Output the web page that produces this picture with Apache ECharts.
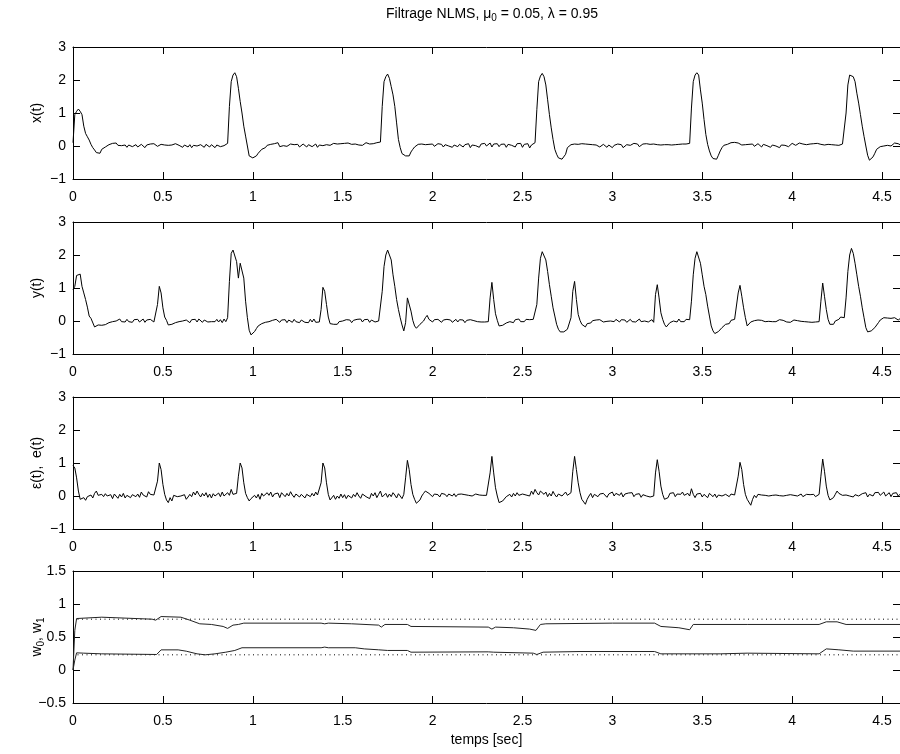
<!DOCTYPE html>
<html>
<head>
<meta charset="utf-8">
<title>Filtrage NLMS</title>
<script src="https://cdn.jsdelivr.net/npm/echarts@6/dist/echarts.min.js"></script>
<style>
  html, body { margin: 0; padding: 0; background: #fff; }
  #chart { width: 900px; height: 754px; }
</style>
</head>
<body>
<div id="chart"></div>
<script>
// Sampling period of the recorded signals (s) and time span shown
const sampleStep = 0.01;
const timeEnd = 4.6;

// x(t): reference (maternal) signal, one row = 0.1 s
const xSignal = [
  0.1, 0.95, 1.05, 1.12, 1.05, 0.95, 0.6, 0.38, 0.28, 0.18,
  0.05, -0.05, -0.12, -0.2, -0.25, -0.22, -0.1, -0.14, -0.03, -0.06,
  0.04, 0.0, 0.08, 0.03, 0.09, 0.02, 0.06, 0.01, 0.07, 0.03,
  -0.04, 0.03, 0.05, -0.02, 0.01, 0.04, -0.03, 0.02, 0.05, 0.0,
  -0.05, 0.03, -0.02, 0.06, 0.02, 0.07, 0.04, -0.01, 0.02, 0.05,
  0.01, 0.03, 0.06, 0.02, 0.08, 0.03, 0.05, 0.07, 0.04, 0.02,
  0.06, -0.04, 0.03, 0.05, -0.03, 0.04, -0.05, 0.02, 0.06, 0.0,
  -0.06, 0.04, 0.01, -0.04, 0.05, 0.02, -0.03, 0.04, 0.0, -0.05,
  0.03, 0.06, -0.02, 0.04, 0.01, 0.05, 0.08, 1.2, 1.95, 2.15,
  2.22, 2.1, 1.75, 1.35, 1.0, 0.6, 0.3, 0.0, -0.3, -0.35,
  -0.36, -0.35, -0.3, -0.22, -0.16, -0.1, -0.12, -0.05, 0.02, -0.03,
  0.05, 0.0, 0.07, 0.02, 0.1, -0.02, 0.04, 0.01, 0.05, -0.01,
  0.03, 0.06, 0.0, 0.04, 0.02, 0.05, -0.03, 0.02, 0.06, 0.0,
  -0.03, 0.04, 0.05, -0.02, 0.03, 0.06, -0.04, 0.03, 0.05, 0.01,
  -0.02, 0.04, 0.07, 0.02, 0.05, 0.08, 0.03, 0.06, 0.04, 0.07,
  0.05, 0.08, 0.06, 0.09, 0.07, 0.05, 0.08, 0.06, 0.09, 0.03,
  0.08, 0.02, 0.07, 0.1, 0.04, 0.06, 0.08, 0.07, 0.09, 0.1,
  0.1, 0.12, 1.2, 1.95, 2.1, 2.18, 2.05, 1.8, 1.55, 1.2,
  0.7, 0.2, -0.05, -0.23, -0.28, -0.3, -0.31, -0.3, -0.18, -0.1,
  -0.03, 0.02, 0.05, 0.0, 0.06, 0.02, 0.04, -0.02, 0.05, 0.03,
  0.06, -0.01, 0.04, 0.07, 0.01, 0.05, -0.03, 0.04, 0.06, 0.0,
  0.05, -0.04, 0.03, 0.07, -0.02, 0.05, 0.08, -0.03, 0.04, 0.02,
  0.07, -0.05, 0.03, 0.08, 0.01, 0.05, -0.04, 0.06, 0.02, 0.08,
  0.0, 0.05, 0.09, -0.03, 0.06, 0.02, 0.07, -0.02, 0.05, 0.03,
  0.06, -0.04, 0.05, 0.08, 0.02, 0.06, -0.03, 0.07, 0.03, 0.08,
  -0.04, 0.05, 0.02, 0.07, -0.06, 0.03, 0.06, 0.1, 1.1, 1.95,
  2.12, 2.2, 2.1, 1.85, 1.4, 0.95, 0.55, 0.2, -0.1, -0.25,
  -0.36, -0.4, -0.4, -0.35, -0.25, -0.05, 0.0, 0.04, 0.02, 0.06,
  0.08, 0.05, 0.1, 0.07, 0.04, 0.06, 0.03, 0.05, 0.02, 0.04,
  0.0, 0.03, 0.05, -0.03, 0.02, 0.05, 0.01, -0.04, 0.03, 0.06,
  -0.05, 0.02, 0.04, 0.06, 0.0, 0.04, -0.05, 0.01, 0.04, 0.06,
  0.02, 0.05, 0.08, 0.03, 0.06, -0.02, 0.04, 0.06, 0.03, 0.07,
  0.03, 0.05, 0.08, 0.06, 0.03, 0.04, 0.06, 0.03, 0.05, 0.04,
  0.02, 0.04, 0.01, 0.03, 0.06, 0.04, 0.02, 0.05, 0.03, 0.06,
  0.02, 0.06, 0.04, 0.08, 1.15, 1.95, 2.15, 2.22, 2.15, 1.7,
  1.3, 0.8, 0.35, 0.05, -0.15, -0.3, -0.38, -0.42, -0.4, -0.28,
  -0.15, -0.05, 0.02, 0.0, 0.05, 0.07, 0.1, 0.08, 0.11, 0.07,
  0.09, 0.06, 0.03, 0.07, 0.04, 0.01, 0.05, 0.02, 0.06, -0.01,
  0.04, 0.07, 0.02, -0.03, 0.05, 0.08, 0.01, 0.04, -0.04, 0.03,
  0.07, 0.0, 0.05, -0.05, 0.03, 0.08, 0.02, 0.06, -0.02, 0.04,
  0.08, 0.05, 0.02, 0.07, 0.09, 0.03, 0.06, 0.08, 0.04, 0.05,
  0.06, 0.03, 0.07, 0.04, 0.08, 0.02, 0.05, 0.09, 0.03, 0.06,
  0.05, 0.01, 0.04, 0.06, 0.03, 0.05, 0.02, 0.04, 0.06, 0.08,
  1.0, 1.85, 2.15, 2.2, 2.1, 1.95, 1.6, 1.3, 0.95, 0.6,
  0.29, 0.0, -0.28, -0.43, -0.42, -0.33, -0.22, -0.1, -0.05, -0.02,
  0.03, 0.0, 0.05, 0.02, 0.07, 0.0, 0.06, 0.09, 0.03, 0.07,
  0.04
];

// y(t): primary (mixed) signal
const ySignal = [
  0.95, 1.05, 1.38, 1.4, 1.42, 1.05, 0.85, 0.65, 0.42, 0.15,
  0.08, 0.05, -0.18, -0.15, -0.12, -0.1, -0.13, -0.08, -0.11, -0.06,
  -0.05, -0.09, -0.02, -0.07, 0.0, -0.04, 0.06, -0.02, 0.04, -0.03,
  0.05, -0.02, 0.03, -0.04, 0.04, -0.01, 0.05, -0.03, 0.02, 0.06,
  -0.04, 0.03, -0.02, 0.05, 0.0, -0.03, -0.02, 0.5, 1.05, 0.85,
  0.4, 0.12, 0.02, -0.12, -0.18, -0.1, -0.13, -0.05, -0.08, -0.02,
  -0.05, 0.0, -0.04, 0.03, -0.02, -0.05, 0.04, -0.01, 0.05, -0.03,
  0.06, 0.0, -0.04, 0.03, 0.0, -0.03, 0.02, -0.02, 0.04, -0.02,
  0.05, -0.03, 0.04, -0.05, 0.06, -0.02, 0.1, 1.2, 2.05, 2.15,
  2.1, 1.8, 1.3, 1.75, 1.75, 1.3, 0.6, 0.1, -0.28, -0.42,
  -0.4, -0.32, -0.23, -0.15, -0.12, -0.08, -0.12, -0.04, -0.07, -0.02,
  -0.05, 0.02, -0.03, 0.05, 0.0, -0.04, 0.03, -0.02, 0.04, -0.05,
  0.03, 0.0, -0.04, 0.05, -0.02, 0.02, -0.05, 0.03, -0.01, -0.04,
  0.02, -0.05, 0.05, -0.03, 0.06, -0.04, 0.0, -0.03, 0.35, 1.02,
  0.9, 0.5, 0.12, -0.08, -0.14, -0.1, -0.05, -0.1, -0.02, -0.06,
  0.0, -0.04, 0.04, -0.02, 0.03, -0.05, 0.02, -0.03, 0.05, 0.0,
  0.06, -0.03, 0.04, -0.02, 0.05, -0.04, 0.03, 0.06, -0.03, -0.02,
  0.0, 0.05, 0.9, 1.65, 2.0, 2.15, 2.1, 1.85, 1.4, 1.05,
  0.65, 0.35, 0.1, -0.12, -0.3, -0.05, 0.7, 0.75, 0.3, 0.02,
  -0.15, -0.22, -0.2, -0.1, -0.05, 0.0, 0.1, 0.17, 0.05, 0.02,
  -0.03, 0.04, -0.02, 0.05, 0.0, -0.04, 0.03, -0.02, 0.05, -0.01,
  0.03, -0.04, 0.02, 0.05, -0.03, 0.04, -0.02, 0.03, -0.05, 0.02,
  -0.03, 0.04, -0.02, 0.01, -0.03, -0.02, -0.04, -0.03, -0.05, -0.03,
  -0.04, -0.02, 0.7, 1.17, 0.65, 0.22, 0.02, -0.15, -0.18, -0.13,
  -0.1, -0.06, -0.09, -0.02, 0.02, -0.05, 0.04, 0.0, 0.06, -0.02,
  0.03, -0.02, 0.05, 0.01, 0.04, -0.01, 0.05, 0.02, 0.5, 1.3,
  1.9, 2.1, 2.12, 1.85, 1.5, 1.1, 0.75, 0.4, 0.15, -0.1,
  -0.25, -0.33, -0.35, -0.33, -0.3, -0.25, -0.2, 0.1, 0.9, 1.2,
  0.65, 0.2, 0.02, -0.1, -0.15, -0.18, -0.08, -0.03, -0.06, 0.01,
  -0.03, 0.03, -0.02, 0.04, 0.0, -0.03, 0.03, -0.01, 0.05, 0.0,
  0.04, -0.02, 0.05, 0.0, -0.03, 0.04, -0.01, 0.03, -0.04, 0.02,
  0.05, -0.02, 0.04, -0.03, 0.03, 0.06, -0.02, 0.04, 0.0, 0.05,
  -0.03, 0.02, 0.04, -0.04, 0.8, 1.1, 0.7, 0.25, 0.05, -0.1,
  -0.18, -0.12, -0.05, -0.1, 0.0, 0.05, -0.03, 0.06, -0.02, 0.04,
  -0.02, 0.05, 0.0, 0.04, 0.6, 1.4, 1.9, 2.1, 2.05, 1.75,
  1.4, 1.05, 0.8, 0.45, 0.15, -0.15, -0.3, -0.38, -0.38, -0.32,
  -0.28, -0.2, -0.15, -0.1, -0.05, -0.08, 0.02, 0.07, 0.05, 0.1,
  0.85, 1.08, 0.75, 0.4, 0.1, -0.15, -0.1, -0.03, -0.06, 0.01,
  -0.02, 0.03, -0.03, 0.02, 0.0, -0.02, 0.03, -0.01, 0.04, -0.02,
  0.03, -0.02, 0.01, 0.04, -0.02, 0.02, 0.05, -0.03, 0.0, -0.04,
  -0.02, 0.03, -0.03, 0.01, 0.04, -0.01, -0.04, -0.02, 0.0, -0.03,
  -0.01, -0.04, -0.02, -0.03, -0.01, -0.02, 0.6, 1.15, 0.75, 0.35,
  0.05, -0.1, -0.13, -0.1, 0.0, 0.02, 0.05, 0.12, 0.08, 0.1,
  0.7, 1.5, 2.0, 2.2, 2.05, 1.75, 1.4, 1.05, 0.75, 0.4,
  0.1, -0.2, -0.33, -0.32, -0.3, -0.25, -0.2, -0.15, -0.05, 0.03,
  0.05, 0.1, 0.04, 0.09, 0.03, 0.08, 0.02, 0.1, 0.06, 0.03,
  0.07
];

// epsilon(t): filter output error (fetal component)
const errSignal = [
  0.92, 0.85, 0.55, 0.15, -0.1, -0.12, -0.05, -0.13, -0.02, -0.08,
  0.03, -0.06, 0.08, 0.15, 0.02, -0.04, 0.05, -0.02, 0.07, 0.0,
  -0.05, 0.04, -0.08, 0.06, 0.0, -0.07, 0.05, -0.03, 0.08, -0.06,
  0.02, 0.07, -0.05, 0.04, 0.1, -0.02, 0.06, -0.04, 0.12, 0.03,
  0.08, -0.03, 0.13, 0.05, 0.0, 0.03, -0.02, 0.45, 1.0, 0.8,
  0.35, 0.05, -0.12, -0.2, -0.05, -0.15, 0.02, 0.08, -0.02, -0.08,
  0.0, -0.05, 0.04, -0.1, -0.03, 0.05, -0.02, 0.12, 0.03, 0.15,
  0.05, -0.03, 0.08, 0.0, 0.1, -0.04, 0.06, -0.06, 0.07, 0.0,
  -0.05, 0.09, -0.02, 0.12, 0.0, -0.06, 0.1, 0.02, 0.2, 0.05,
  0.03, 0.08, 0.6, 1.0, 0.85, 0.4, 0.08, -0.05, -0.15, -0.08,
  -0.12, 0.02, -0.06, 0.05, -0.1, 0.08, 0.0, -0.04, 0.1, 0.02,
  0.12, -0.03, 0.06, 0.0, 0.09, -0.05, 0.1, 0.04, -0.02, 0.08,
  0.0, 0.13, 0.03, -0.04, 0.06, 0.11, -0.03, 0.05, 0.0, -0.06,
  0.05, 0.1, -0.02, 0.08, 0.0, 0.12, 0.03, 0.05, 0.4, 1.0,
  0.85, 0.4, 0.05, -0.12, -0.08, 0.02, -0.1, 0.0, -0.07, 0.06,
  -0.05, 0.04, -0.08, 0.02, 0.08, -0.06, 0.05, -0.02, 0.1, 0.0,
  -0.07, 0.06, 0.12, -0.02, 0.04, -0.08, 0.08, 0.0, 0.1, -0.05,
  0.05, 0.15, -0.03, 0.0, 0.08, -0.04, 0.06, -0.02, 0.1, 0.03,
  -0.06, 0.07, 0.0, -0.08, 0.05, 0.55, 1.08, 0.8, 0.35, 0.05,
  -0.1, -0.22, -0.25, -0.12, 0.0, 0.08, 0.15, 0.18, 0.08, 0.02,
  -0.02, 0.06, 0.0, 0.04, -0.03, 0.08, 0.02, 0.05, -0.02, 0.06,
  0.03, 0.0, 0.07, -0.02, 0.05, 0.02, 0.06, 0.0, 0.04, 0.07,
  0.02, 0.05, 0.0, 0.04, 0.06, 0.01, 0.03, 0.05, 0.02, -0.01,
  0.02, -0.02, 0.7, 1.2, 0.7, 0.25, 0.0, -0.2, -0.18, -0.15,
  -0.1, -0.02, -0.08, 0.05, -0.03, 0.08, 0.0, 0.1, 0.02, -0.04,
  0.06, 0.12, 0.03, 0.08, 0.0, 0.15, 0.05, 0.2, 0.1, 0.03,
  0.15, 0.2, 0.05, 0.12, -0.02, 0.08, 0.0, 0.14, 0.04, -0.03,
  0.06, 0.1, 0.0, 0.05, 0.12, 0.02, -0.02, 0.1, 0.75, 1.2,
  0.8, 0.4, 0.1, -0.1, -0.05, -0.25, -0.1, 0.0, 0.08, -0.05,
  0.05, 0.1, -0.02, 0.06, 0.0, 0.08, 0.03, -0.04, 0.06, 0.02,
  0.12, 0.0, 0.08, 0.14, 0.02, 0.1, -0.03, 0.06, 0.0, 0.09,
  0.03, 0.1, -0.02, 0.05, 0.0, 0.07, -0.04, 0.04, 0.06, 0.0,
  0.05, -0.03, 0.02, 0.0, 0.7, 1.1, 0.75, 0.3, 0.05, -0.1,
  -0.15, -0.05, 0.08, 0.02, 0.1, -0.02, 0.06, 0.0, 0.05, 0.12,
  0.02, -0.04, 0.08, 0.0, 0.22, 0.05, -0.05, 0.06, 0.0, 0.08,
  -0.03, 0.05, 0.0, -0.05, 0.08, 0.02, -0.02, 0.06, -0.05, 0.03,
  0.08, 0.0, -0.04, 0.05, 0.02, -0.02, 0.06, 0.1, 0.03, 0.08,
  0.6, 1.02, 0.8, 0.35, 0.05, -0.1, -0.15, -0.28, -0.1, 0.02,
  -0.05, 0.05, 0.1, 0.03, 0.06, 0.02, 0.05, 0.0, 0.04, 0.02,
  0.05, 0.03, 0.04, 0.01, 0.03, 0.0, -0.05, 0.02, 0.0, 0.04,
  0.06, 0.02, 0.05, 0.0, 0.03, 0.06, -0.02, 0.03, 0.05, 0.0,
  0.04, 0.02, 0.05, -0.02, 0.03, 0.05, 0.6, 1.12, 0.75, 0.3,
  0.02, -0.12, -0.15, -0.05, 0.05, 0.15, 0.08, 0.05, 0.02, -0.04,
  0.03, 0.06, 0.0, 0.05, -0.03, 0.04, 0.08, 0.0, -0.02, 0.07,
  0.02, 0.1, -0.03, 0.05, 0.08, 0.0, 0.1, 0.04, 0.11, 0.02,
  0.08, 0.12, 0.0, 0.06, 0.1, -0.02, 0.08, 0.04, 0.1, 0.0,
  0.05
];

// Adaptive filter coefficients [time, value]
const w0Track = [
  [0, 0], [0.01, 0.6], [0.02, 0.78], [0.03, 0.81], [0.16, 0.8], [0.44, 0.77],
  [0.46, 0.755], [0.49, 0.81], [0.6, 0.8], [0.65, 0.755], [0.705, 0.7],
  [0.77, 0.69], [0.835, 0.66], [0.86, 0.63], [0.89, 0.68], [0.92, 0.69],
  [0.95, 0.71], [1.38, 0.71], [1.4, 0.7], [1.42, 0.71], [1.55, 0.7],
  [1.7, 0.68], [1.715, 0.65], [1.735, 0.69], [1.86, 0.69], [1.88, 0.66],
  [2.31, 0.65], [2.33, 0.62], [2.35, 0.65], [2.45, 0.64], [2.54, 0.62],
  [2.575, 0.6], [2.6, 0.69], [2.63, 0.7], [3.0, 0.71], [3.235, 0.71],
  [3.27, 0.66], [3.37, 0.64], [3.43, 0.61], [3.45, 0.69], [3.75, 0.69],
  [4.15, 0.69], [4.19, 0.73], [4.25, 0.73], [4.3, 0.69], [4.6, 0.69]
];
const w1Track = [
  [0, 0], [0.01, 0.15], [0.02, 0.26], [0.03, 0.27], [0.06, 0.255],
  [0.16, 0.245], [0.465, 0.235], [0.49, 0.305], [0.585, 0.305],
  [0.63, 0.285], [0.69, 0.245], [0.735, 0.23], [0.79, 0.245], [0.85, 0.27],
  [0.9, 0.296], [0.94, 0.337], [1.38, 0.337], [1.4, 0.347], [1.42, 0.337],
  [1.57, 0.337], [1.62, 0.32], [1.7, 0.306], [1.75, 0.296], [1.86, 0.296],
  [1.88, 0.27], [2.31, 0.275], [2.32, 0.285], [2.34, 0.27], [2.56, 0.255],
  [2.58, 0.235], [2.615, 0.27], [2.82, 0.28], [3.235, 0.28], [3.27, 0.245],
  [3.6, 0.245], [3.75, 0.255], [4.15, 0.245], [4.19, 0.32], [4.26, 0.306],
  [4.34, 0.286], [4.6, 0.286]
];
// Optimal coefficients (dotted references)
const w0Optimal = 0.77;
const w1Optimal = 0.23;

// Axis ranges per panel: [min, max, step]
const panelRanges = [[-1, 3, 1], [-1, 3, 1], [-1, 3, 1], [-0.5, 1.5, 0.5]];
const panelNames = ['x(t)', 'y(t)', 'ε(t),  e(t)', 'w{s|0}, w{s|1}'];

const font = '"Liberation Sans", Arial, Helvetica, sans-serif';
const fontSize = 14;
const nameLineHeight = 18;
const panelTops = [47, 222, 397, 571];
const panelHeight = 132;

// subscript: smaller glyphs sitting at the bottom of the line box
const subRich = { s: { fontSize: 10, lineHeight: 10, verticalAlign: 'bottom', fontFamily: font, color: '#000' } };
const fmt = v => (v < 0 ? '\u2212' + Math.abs(v) : String(v));

const lineCommon = {
  axisLine: { show: true, onZero: false, lineStyle: { color: '#000', width: 1 } },
  axisTick: { show: true, inside: true, length: 7, lineStyle: { color: '#000', width: 1 } },
  splitLine: { show: false }
};

const grids = [], xAxes = [], yAxes = [];
panelTops.forEach((top, i) => {
  grids.push({ left: 73, right: -1, top: top, height: panelHeight });
  const [lo, hi, step] = panelRanges[i];
  xAxes.push(Object.assign({
    type: 'value', gridIndex: i, position: 'bottom', min: 0, max: timeEnd, interval: 0.5,
    axisLabel: { color: '#000', fontSize: fontSize, fontFamily: font, margin: 11, showMaxLabel: false, formatter: fmt },
    name: i === 3 ? 'temps [sec]' : '', nameLocation: 'middle', nameGap: 30, nameMoveOverlap: false,
    nameTextStyle: { color: '#000', fontSize: fontSize, fontFamily: font, lineHeight: 14 }
  }, lineCommon));
  xAxes.push(Object.assign({
    type: 'value', gridIndex: i, position: 'top', min: 0, max: timeEnd, interval: 0.5,
    axisLabel: { show: false }
  }, lineCommon));
  yAxes.push(Object.assign({
    type: 'value', gridIndex: i, position: 'left', min: lo, max: hi, interval: step,
    axisLabel: { color: '#000', fontSize: fontSize, fontFamily: font, margin: 7, formatter: fmt },
    name: panelNames[i], nameLocation: 'middle', nameGap: 27, nameMoveOverlap: false,
    nameTextStyle: { color: '#000', fontSize: fontSize, fontFamily: font, lineHeight: nameLineHeight, rich: subRich }
  }, lineCommon));
  yAxes.push(Object.assign({
    type: 'value', gridIndex: i, position: 'right', min: lo, max: hi, interval: step,
    axisLabel: { show: false }
  }, lineCommon));
});

const toPoints = arr => arr.map((v, i) => [+(i * sampleStep).toFixed(2), v]);

const trace = (panel, data, color) => ({
  type: 'line', xAxisIndex: panel * 2, yAxisIndex: panel * 2, data: data,
  showSymbol: false, symbol: 'none', silent: true,
  lineStyle: { color: color, width: 1 }, itemStyle: { color: color }
});
const optimalLine = (value) => ({
  type: 'line', xAxisIndex: 6, yAxisIndex: 6, data: [[0, value], [timeEnd, value]],
  showSymbol: false, symbol: 'none', silent: true,
  lineStyle: { color: '#000', width: 1, type: [1, 3.5] }, itemStyle: { color: '#000' }
});

const chart = echarts.init(document.getElementById('chart'), null, { renderer: 'canvas' });
chart.setOption({
  animation: false,
  backgroundColor: '#fff',
  title: {
    text: 'Filtrage NLMS, μ{s|0} = 0.05, λ = 0.95',
    left: 487, top: 0, textAlign: 'center',
    textStyle: { color: '#000', fontSize: fontSize, fontWeight: 'normal', fontFamily: font, lineHeight: nameLineHeight, rich: subRich }
  },
  grid: grids,
  xAxis: xAxes,
  yAxis: yAxes,
  series: [
    trace(0, toPoints(xSignal), '#000'),
    trace(1, toPoints(ySignal), '#000'),
    trace(2, toPoints(errSignal), '#000'),
    optimalLine(w0Optimal),
    optimalLine(w1Optimal),
    trace(3, w0Track, '#222'),
    trace(3, w1Track, '#222')
  ]
});
</script>
</body>
</html>
